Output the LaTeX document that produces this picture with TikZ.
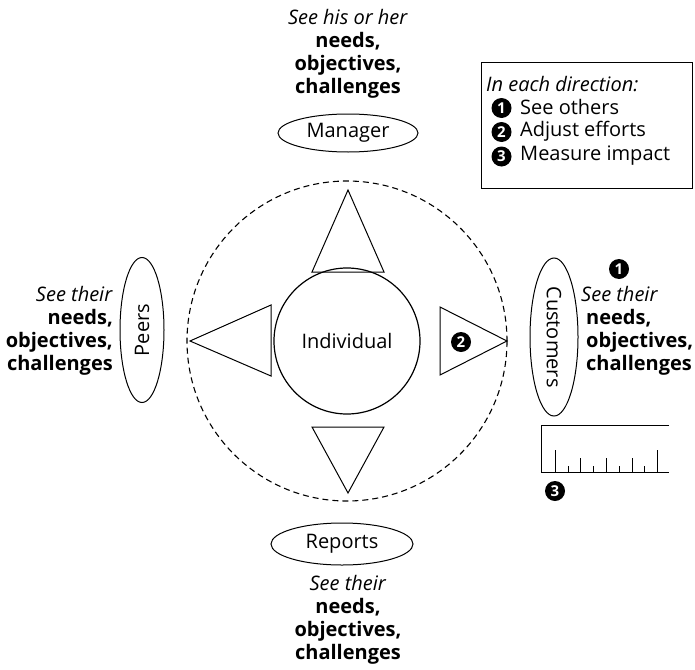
\documentclass[tikz,border=0pt]{standalone}
\usepackage{fontspec}
\usetikzlibrary{shapes.geometric}
\setmainfont{Open Sans}
\begin{document}
\begin{tikzpicture}[x=1pt,y=-1pt,
  txt/.style={font=\fontsize{20}{23}\selectfont, inner sep=0pt},
  shp/.style={draw, line width=1pt},
  num/.style={circle, fill=black, text=white, minimum size=20pt, inner sep=0pt, font=\bfseries\fontsize{15}{15}\selectfont}]
\useasboundingbox (0,0) rectangle (695,669);
% circles
\draw[line width=1.1pt, dash pattern=on 6pt off 4pt] (347,341) circle[radius=160];
\node[shp, circle, minimum size=146pt, line width=1.2pt, txt] (ind) at (347,341) {Individual};
% triangles
\draw[shp] (348,190) -- (384,272) -- (312,272) -- cycle;
\draw[shp] (348,493) -- (384,427) -- (312,427) -- cycle;
\draw[shp] (190,341) -- (271,305) -- (271,376) -- cycle;
\draw[shp] (507,341) -- (440,307) -- (440,375) -- cycle;
\node[num] (n2) at (461,342) {2};
% ellipses
\node[shp, ellipse, minimum width=140pt, minimum height=38pt, inner sep=0pt, txt] (mgr) at (348,133) {Manager};
\node[shp, ellipse, minimum width=142pt, minimum height=42pt, inner sep=0pt, txt] (rep) at (342,544) {Reports};
\draw[line width=1pt] (142,330) ellipse[x radius=22, y radius=72.5];
\node[txt, rotate=90] (peers) at (142,330) {Peers};
\draw[line width=1pt] (554,337) ellipse[x radius=24, y radius=79];
\node[txt, rotate=-90] (cust) at (554,337) {Customers};
% texts
\node[txt, align=center] (ttop) at (348,53.5) {\textit{See his or her}\\\textbf{needs,}\\\textbf{objectives,}\\\textbf{challenges}};
\node[txt, align=center] (tbot) at (348,620) {\textit{See their}\\\textbf{needs,}\\\textbf{objectives,}\\\textbf{challenges}};
\node[txt, align=right, anchor=east] (tleft) at (113,331) {\textit{See their}\\\textbf{needs,}\\\textbf{objectives,}\\\textbf{challenges}};
\node[txt, align=left, anchor=west] (tright) at (581,331) {\textit{See their}\\\hspace{5pt}\textbf{needs,}\\\hspace{5pt}\textbf{objectives,}\\\hspace{5pt}\textbf{challenges}};
\node[num] (n1) at (619,269) {1};
% ruler
\draw[line width=1pt] (669,425.5) -- (541,425.5) -- (541,472.5) -- (669,472.5);
\foreach \x in {555,657} \draw[line width=1pt] (\x,450) -- (\x,472.5);
\foreach \x in {580,606,632} \draw[line width=1pt] (\x,458) -- (\x,472.5);
\foreach \x in {568,593,619,644} \draw[line width=1pt] (\x,466) -- (\x,472.5);
\node[num] (n3) at (555,491) {3};
% legend
\draw[line width=1pt] (481,62) rectangle (692,188);
\node[txt, anchor=west] (l0) at (486,84) {\textit{In each direction:}};
\node[num] (c1) at (501.5,108) {1};
\node[num] (c2) at (501.5,132) {2};
\node[num] (c3) at (501.5,156.5) {3};
\node[txt, anchor=west] (l1) at (520,107) {See others};
\node[txt, anchor=west] (l2) at (520,131) {Adjust efforts};
\node[txt, anchor=west] (l3) at (520,155.5) {Measure impact};
\end{tikzpicture}
\end{document}
